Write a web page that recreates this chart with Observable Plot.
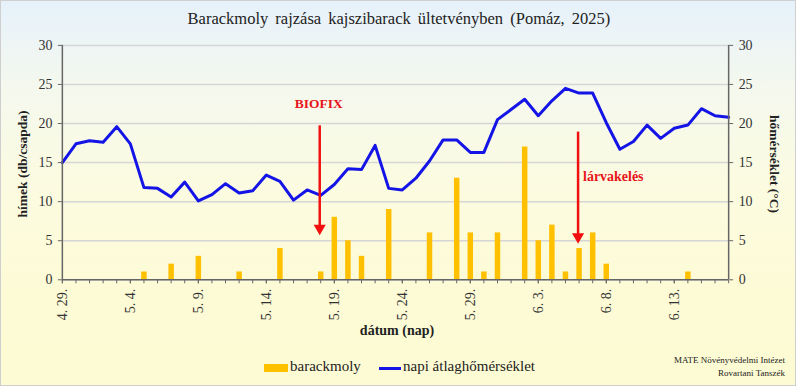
<!DOCTYPE html>
<html>
<head>
<meta charset="utf-8">
<script src="https://cdn.jsdelivr.net/npm/d3@7"></script>
<script src="https://cdn.jsdelivr.net/npm/@observablehq/plot@0.6"></script>
<style>
  html, body { margin: 0; padding: 0; background: #fff; }
  #wrap {
    position: relative; width: 794px; height: 384px; overflow: hidden;
    border: 1px solid #cfcfcf;
    background: linear-gradient(to bottom, #e6f1fb 0%, #f4f8ee 22%, #fbfbe2 45%, #fdfbd6 75%, #fdfbd3 100%);
    font-family: "Liberation Serif", "Times New Roman", serif;
  }
  #wrap svg { position: absolute; left: -1px; top: -1px; }
  #wrap svg text { font-family: "Liberation Serif", "Times New Roman", serif !important; }
  .abs { position: absolute; white-space: nowrap; }
</style>
</head>
<body>
<div id="wrap">
  <div class="abs" id="title" style="left:0; width:796px; top:8px; text-align:center; font-size:16.5px; word-spacing:3px; color:#222;">Barackmoly rajzása kajszibarack ültetvényben (Pomáz, 2025)</div>
  <div class="abs" style="left:22px; top:163px; transform: translate(-50%,-50%) rotate(-90deg); font-weight:bold; font-size:13.5px; color:#222;">hímek (db/csapda)</div>
  <div class="abs" style="left:773px; top:163px; transform: translate(-50%,-50%) rotate(90deg); font-weight:bold; font-size:13.5px; color:#222;">hőmérséklet (°C)</div>
  <div class="abs" style="left:0; width:792px; top:322px; text-align:center; font-weight:bold; font-size:14px; color:#222;">dátum (nap)</div>
  <div class="abs" style="left:263px; top:363px; width:24px; height:8px; background:#FFC000;"></div>
  <div class="abs" style="left:289px; top:357px; font-size:15px; color:#222;">barackmoly</div>
  <div class="abs" style="left:378px; top:366px; width:22px; height:3px; background:#1414e6;"></div>
  <div class="abs" style="left:402px; top:357px; font-size:15px; color:#222;">napi átlaghőmérséklet</div>
  <div class="abs" style="right:10px; top:353px; font-size:9px; text-align:right; line-height:13px; color:#222;">MATE Növényvédelmi Intézet<br>Rovartani Tanszék</div>
</div>
<script>
// ---- data ----
const dates = [
  "2025-04-29","2025-04-30","2025-05-01","2025-05-02","2025-05-03","2025-05-04","2025-05-05","2025-05-06","2025-05-07","2025-05-08",
  "2025-05-09","2025-05-10","2025-05-11","2025-05-12","2025-05-13","2025-05-14","2025-05-15","2025-05-16","2025-05-17","2025-05-18",
  "2025-05-19","2025-05-20","2025-05-21","2025-05-22","2025-05-23","2025-05-24","2025-05-25","2025-05-26","2025-05-27","2025-05-28",
  "2025-05-29","2025-05-30","2025-05-31","2025-06-01","2025-06-02","2025-06-03","2025-06-04","2025-06-05","2025-06-06","2025-06-07",
  "2025-06-08","2025-06-09","2025-06-10","2025-06-11","2025-06-12","2025-06-13","2025-06-14","2025-06-15","2025-06-16","2025-06-17"
];
const mothCounts = [
  0,0,0,0,0,0,1,0,2,0,
  3,0,0,1,0,0,4,0,0,1,
  8,5,3,0,9,0,0,6,0,13,
  6,1,6,0,17,5,7,1,4,6,
  2,0,0,0,0,0,1,0,0,0
];
const temperatures = [
  15.0,17.4,17.8,17.6,19.6,17.4,11.8,11.7,10.6,12.5,
  10.1,10.9,12.3,11.1,11.4,13.4,12.6,10.2,11.5,10.8,
  12.2,14.2,14.1,17.2,11.7,11.5,13.0,15.2,17.9,17.9,
  16.3,16.3,20.5,21.8,23.1,21.0,22.9,24.5,23.9,23.9,
  20.1,16.7,17.7,19.8,18.1,19.4,19.8,21.9,21.0,20.8
];
const xTickDates = ["2025-04-29","2025-05-04","2025-05-09","2025-05-14","2025-05-19","2025-05-24","2025-05-29","2025-06-03","2025-06-08","2025-06-13"];
const yTicks = [0,5,10,15,20,25,30];
const annotationLabels = ["BIOFIX","lárvakelés"];
const annotationDates = ["2025-05-18","2025-06-06"];
const annotationTop = [19.7, 18.9];
const annotationBottom = [6.6, 5.5];
const annotationTextY = [22.6, 13.2];

// ---- build tables ----
const parse = d3.utcParse("%Y-%m-%d");
const rows = dates.map((d, i) => ({date: parse(d), count: mothCounts[i], temp: temperatures[i]}));
const bars = rows.filter(r => r.count > 0);
const notes = annotationLabels.map((t, i) => ({
  label: t, date: parse(annotationDates[i]), top: annotationTop[i], bottom: annotationBottom[i], ty: annotationTextY[i]
}));
const fmt = d => `${d.getUTCMonth() + 1}. ${d.getUTCDate()}.`;
const serif = "'Liberation Serif', 'Times New Roman', serif";

const chart = Plot.plot({
  width: 796,
  height: 386,
  marginLeft: 62,
  marginRight: 66,
  marginTop: 45,
  marginBottom: 106,
  style: {background: "transparent", fontFamily: serif, fontSize: "14px", color: "#333"},
  x: {type: "utc", domain: [rows[0].date, rows[rows.length - 1].date]},
  y: {domain: [0, 30]},
  marks: [
    Plot.gridY({ticks: yTicks, stroke: "#d6d6d6", strokeOpacity: 1, strokeWidth: 1.5}),
    Plot.ruleX(bars, {x: "date", y1: 0, y2: "count", stroke: "#FFC000", strokeWidth: 5.5}),
    Plot.line(rows, {x: "date", y: "temp", stroke: "#1414e6", strokeWidth: 3, strokeLinejoin: "round"}),
    Plot.ruleY([0], {stroke: "#666", strokeWidth: 1.5}),
    Plot.ruleX([rows[0].date, rows[rows.length - 1].date], {stroke: "#666", strokeWidth: 1.5}),
    Plot.axisY({anchor: "left", ticks: yTicks, tickSize: 4, tickPadding: 6, label: null, fontSize: 14, fontFamily: serif, stroke: "#666"}),
    Plot.axisY({anchor: "right", ticks: yTicks, tickSize: 4, tickPadding: 6, label: null, fontSize: 14, fontFamily: serif, stroke: "#666"}),
    Plot.axisX({ticks: rows.map(r => r.date), tickFormat: () => "", tickSize: 4, label: null, stroke: "#666"}),
    Plot.axisX({ticks: xTickDates.map(parse), tickFormat: fmt, tickRotate: -90, tickSize: 4, tickPadding: 5, label: null, fontSize: 14, fontFamily: serif, stroke: "#666"}),
    Plot.ruleX(notes, {x: "date", y1: "top", y2: "bottom", stroke: "#f01010", strokeWidth: 2.5, dx: -1}),
    Plot.dot(notes, {x: "date", y: "bottom", symbol: "triangle", rotate: 180, r: 4.5, fill: "#f01010", stroke: "none", dx: -1}),
    Plot.text(notes.slice(0, 1), {x: "date", y: "ty", text: "label", fill: "#e8141b", fontWeight: "bold", fontSize: 13.5, fontFamily: serif, dx: -2}),
    Plot.text(notes.slice(1), {x: "date", y: "ty", text: "label", fill: "#e8141b", fontWeight: "bold", fontSize: 14, fontFamily: serif, textAnchor: "start", dx: 4})
  ]
});
document.getElementById("wrap").appendChild(chart);
</script>
</body>
</html>
